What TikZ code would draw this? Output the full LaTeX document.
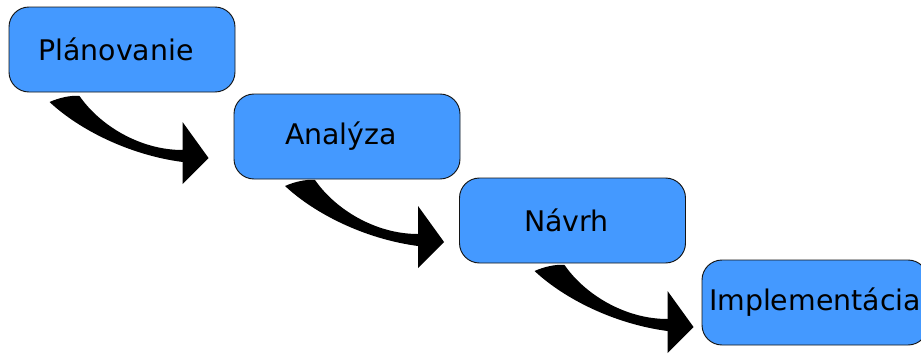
\documentclass[tikz,border=0pt]{standalone}
\usepackage{fontspec}
\setmainfont{DejaVu Sans}
\usepackage{xcolor}
\definecolor{Col1}{RGB}{68,153,255}
\definecolor{Col2}{RGB}{20,20,20}
\usepackage{tikz}
\tikzstyle{Phase}=[rectangle,rounded corners=15pt,draw=Col2,fill=Col1,
line width=.7pt,minimum width=226*.75pt,minimum height=85*.75pt,
inner sep=0pt,font=\fontsize{21.3}{25}\selectfont]
\tikzset{Flow/.pic={
    \fill[black](-159,-56)..controls(-150,-60)and(-138,-63)..(-129,-62)
      ..controls(-109,-33)and(-69,-8)..(-26,-8)--(-26,-36)--(0,0)
      --(-26,26)--(-26,4)..controls(-79,-3)and(-129,-28)..cycle;}}

\begin{document}
\begin{tikzpicture}[x=.75pt,y=-.75pt]
        \useasboundingbox(0,0)rectangle(921,354);
        \node[Phase](1)at(122,49.5){Plánovanie\hspace*{9pt}};
        \node[Phase](2)at(347,136.5){Analýza\hspace*{9pt}};
        \node[Phase](3)at(572.5,220.5){Návrh\hspace*{9pt}};
        \node[Phase](4)at(815,302.5){Implementácia};
        \pic at([shift={(-25,21.5)}]2.west){Flow};
        \pic at([shift={(-15,21.5)}]3.west){Flow};
        \pic at([shift={(-8,24.5)}]4.west){Flow};
    \end{tikzpicture}
\end{document}
